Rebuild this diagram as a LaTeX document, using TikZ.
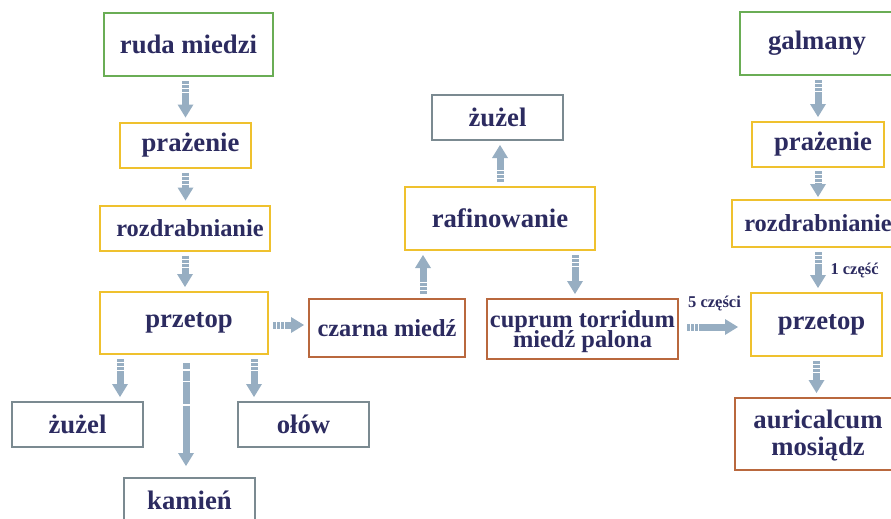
\documentclass[tikz,border=0pt]{standalone}
\usepackage{fontspec}
\setmainfont{Liberation Serif}
\usetikzlibrary{arrows.meta}
\definecolor{txtnavy}{HTML}{2C2B60}
\definecolor{boxgreen}{HTML}{6AAD55}
\definecolor{boxyellow}{HTML}{EFC12E}
\definecolor{boxbrown}{HTML}{B9683E}
\definecolor{boxgray}{HTML}{7B8A91}
\definecolor{flowc}{HTML}{97AEC2}
\setlength{\lineskiplimit}{-30pt}
\newcommand{\lead}{\hspace*{10pt}}
\tikzset{
  box/.style={draw, line width=2pt, minimum width=131pt, minimum height=45pt, inner sep=0pt,
    align=center, text=txtnavy, font=\bfseries\fontsize{26.7}{27}\selectfont},
  smalltxt/.style={font=\bfseries\fontsize{24.4}{20}\selectfont},
  startbox/.style={box, draw=boxgreen},
  stepbox/.style={box, draw=boxyellow},
  metalbox/.style={box, draw=boxbrown},
  wastebox/.style={box, draw=boxgray},
  flow/.style={color=flowc, line width=7pt,
    -{Triangle[length=13pt,width=16pt,line width=0pt,fill=flowc]},
    dash pattern=on 3pt off 1pt on 3pt off 1pt on 3pt off 1pt on 400pt,
    shorten <=4pt, shorten >=4pt},
  lbl/.style={text=txtnavy, font=\bfseries\fontsize{16.5}{18}\selectfont, inner sep=0pt},
}
\begin{document}
\begin{tikzpicture}[x=1pt, y=-1pt]
\clip (0,0) rectangle (891,519);
% ruda miedzi
\node[startbox, minimum width=169pt, minimum height=63pt] (ruda) at (188.5,44.5) {ruda miedzi};
\node[stepbox] (prazL) at (185.5,145) {\lead prażenie};
\node[stepbox, smalltxt, minimum width=170pt] (rozdL) at (185,228) {\lead rozdrabnianie};
\node[stepbox, minimum width=168pt, minimum height=62pt] (przetopL) at (184,323) {\lead przetop};
\node[wastebox] (zuzelL) at (77.5,424.5) {żużel};
\node[wastebox] (olow) at (303.5,424.5) {ołów};
\node[wastebox] (kamien) at (189.5,500.5) {kamień};
\node[metalbox, smalltxt, minimum width=156pt, minimum height=58pt] (czarna) at (387,328) {czarna miedź};
\node[stepbox, minimum width=190pt, minimum height=63pt] (rafin) at (500,218.5) {rafinowanie};
\node[wastebox] (zuzelT) at (497.5,117.5) {żużel};
\node[metalbox, smalltxt, minimum width=191pt, minimum height=60pt, text depth=0pt] (cuprum) at (582.5,329) {cuprum torridum\\miedź palona};
% galmany
\node[startbox, minimum width=154pt, minimum height=63pt] (galm) at (817,43.5) {galmany};
\node[stepbox, minimum width=132pt] (prazR) at (818,144.5) {\lead prażenie};
\node[stepbox, smalltxt, minimum width=172pt, minimum height=47pt] (rozdR) at (818,223.5) {rozdrabnianie};
\node[stepbox, minimum width=131pt, minimum height=63pt] (przetopR) at (816.5,324.5) {\lead przetop};
\node[metalbox, minimum width=166pt, minimum height=72pt, text depth=2pt] (auric) at (818,434) {auricalcum\\mosiądz};

\path[flow]
  (ruda.south -| prazL.north) edge (prazL.north)
  (prazL.south) edge (prazL.south |- rozdL.north)
  (rozdL.south) edge (rozdL.south |- przetopL.north)
  ([yshift=-2pt]przetopL.east) edge ([yshift=3pt]czarna.west)
  ([xshift=-64pt]przetopL.south) edge ([xshift=42.5pt]zuzelL.north)
  ([xshift=2pt]przetopL.south) edge[shorten <=8pt, shorten >=11pt,
      dash pattern=on 6pt off 1.5pt on 10pt off 1.5pt on 22pt off 1.5pt on 400pt] ([xshift=-3.5pt]kamien.north)
  ([xshift=70pt]przetopL.south) edge ([xshift=-49.5pt]olow.north)
  ([xshift=36pt]czarna.north) edge ([xshift=-77pt]rafin.south)
  (rafin.north) edge (rafin.north |- zuzelT.south)
  ([xshift=75pt]rafin.south) edge ([xshift=-7.5pt]cuprum.north)
  ([yshift=2pt]cuprum.east) edge[shorten <=8pt, shorten >=12pt]
      node[lbl, midway, yshift=24pt] {5 części} ([yshift=-2.5pt]przetopR.west)
  (galm.south -| prazR.north) edge (prazR.north)
  (prazR.south) edge[shorten <=3pt, shorten >=2pt] (prazR.south |- rozdR.north)
  (rozdR.south) edge node[lbl, midway, anchor=west, xshift=9pt] {1 część} (rozdR.south |- przetopR.north)
  (przetopR.south) edge (przetopR.south |- auric.north);
\end{tikzpicture}
\end{document}
